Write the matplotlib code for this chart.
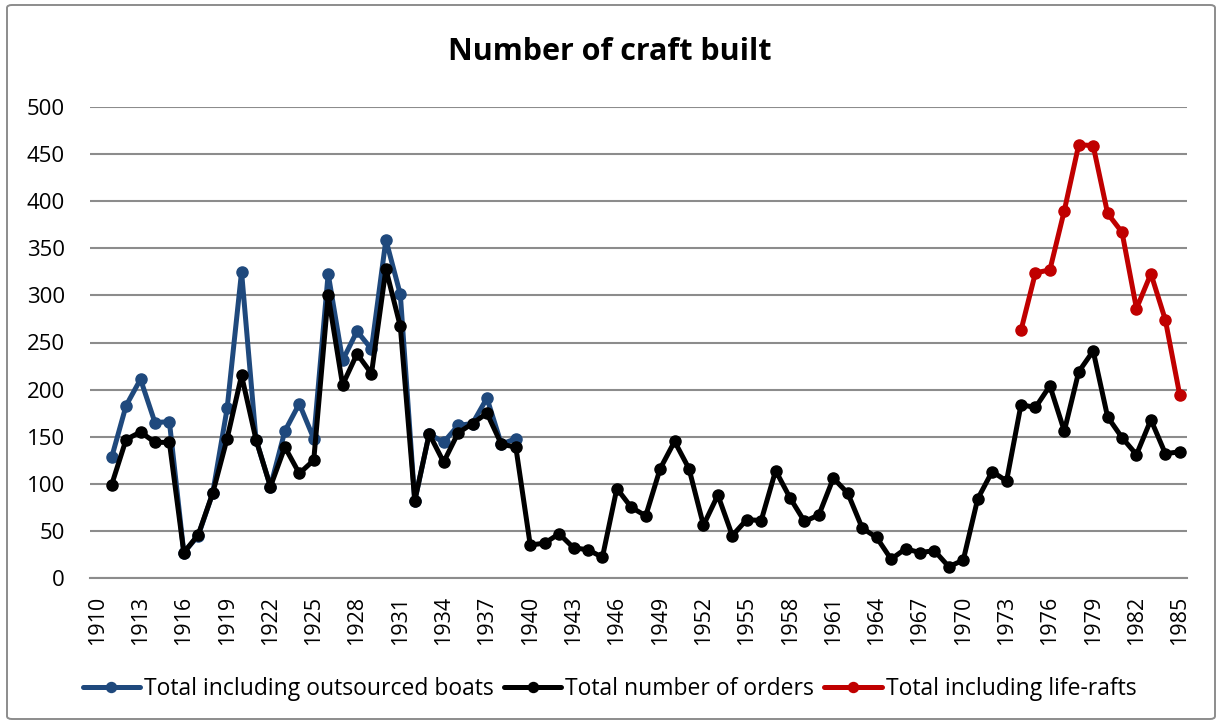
import numpy as np
import matplotlib
matplotlib.use("Agg")
import matplotlib.pyplot as plt
from matplotlib.patches import FancyBboxPatch

plt.rcParams['font.family'] = ['Open Sans', 'DejaVu Sans']

# ---- data ----
categories = [str(y) for y in range(1910, 1986)]

outsourced_start = 1911
total_outsourced = [128, 183, 211, 165, 166, 27, 45, 90, 180, 325,
                    147, 97, 156, 185, 148, 323, 231, 262, 243, 359,
                    301, 82, 153, 144, 162, 164, 191, 142, 148]

orders_start = 1911
total_orders = [99, 147, 155, 144, 144, 27, 46, 90, 148, 215,
                147, 97, 139, 111, 125, 300, 205, 238, 217, 328,
                267, 82, 153, 123, 154, 164, 175, 142, 139, 35,
                37, 47, 32, 30, 22, 95, 75, 66, 116, 145,
                116, 56, 88, 45, 62, 61, 114, 85, 60, 67,
                106, 90, 53, 43, 20, 31, 27, 29, 12, 19,
                84, 113, 103, 184, 181, 204, 156, 219, 241, 171,
                149, 131, 168, 132, 134]

liferafts_start = 1974
total_liferafts = [263, 324, 327, 390, 460, 459, 387, 367, 286, 323, 274, 194]

series_labels = ["Total including outsourced boats",
                 "Total number of orders",
                 "Total including life-rafts"]
colors = ["#1F497D", "#000000", "#C00000"]

# ---- figure ----
W, H = 1219, 724
fig = plt.figure(figsize=(W / 100, H / 100), dpi=100)
fig.patch.set_facecolor("white")

bx0, by0, bx1, by1 = 7, 5, 1215, 719
border = FancyBboxPatch((bx0 / W, 1 - by1 / H), (bx1 - bx0) / W, (by1 - by0) / H,
                        boxstyle="round,pad=0,rounding_size=0.004",
                        transform=fig.transFigure, fill=False,
                        edgecolor="#8C8C8C", linewidth=1.4)
fig.patches.append(border)

left, right, top, bottom = 90, 1187, 107, 578
ax = fig.add_axes([left / W, 1 - bottom / H, (right - left) / W, (bottom - top) / H])

base = int(categories[0])
def xs(start, vals):
    return np.arange(len(vals)) + (start - base)

for start, vals, lab, col in [(outsourced_start, total_outsourced, series_labels[0], colors[0]),
                              (orders_start, total_orders, series_labels[1], colors[1]),
                              (liferafts_start, total_liferafts, series_labels[2], colors[2])]:
    ax.plot(xs(start, vals), vals, color=col, lw=3.6, marker='o', ms=8,
            label=lab, solid_joinstyle='round', solid_capstyle='round', zorder=3)

ax.set_xlim(-0.5, len(categories) - 0.5)
ax.set_ylim(0, 500)
ax.set_yticks(np.arange(0, 501, 50))
ax.set_xticks(np.arange(0, len(categories), 3))
ax.set_xticklabels(categories[::3], rotation=90, fontsize=15.5)
ax.tick_params(axis='y', labelsize=16, length=0, pad=18)
ax.tick_params(axis='x', length=0, pad=13)
ax.grid(axis='y', color='#8C8C8C', lw=1.5, zorder=0)
ax.set_axisbelow(True)
for s in ['top', 'right', 'left']:
    ax.spines[s].set_visible(False)
ax.spines['bottom'].set_color('#8C8C8C')
ax.spines['bottom'].set_linewidth(1.5)

fig.text(0.5, 1 - 52 / H, "Number of craft built", ha='center', va='center',
         fontsize=22, fontweight='bold')

fig.legend(loc='center', bbox_to_anchor=(0.5, 1 - 689 / H), ncol=3, frameon=False,
           fontsize=16.5, handlelength=2.5, handletextpad=0.17, columnspacing=0.45,
           markerscale=0.9)

fig.savefig("out.png", dpi=100, facecolor="white")
